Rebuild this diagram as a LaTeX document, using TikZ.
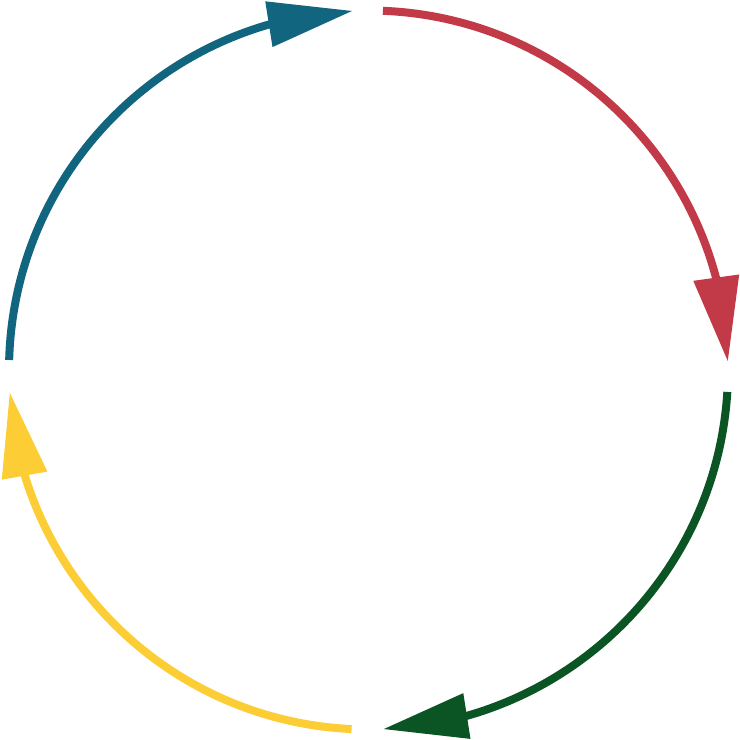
\documentclass[tikz,border=0pt]{standalone}
\usetikzlibrary{arrows.meta,bending}
\definecolor{cblue}{HTML}{12657F}
\definecolor{cred}{HTML}{C23A48}
\definecolor{cgreen}{HTML}{0B5424}
\definecolor{cyellow}{HTML}{FCCD34}
\begin{document}
\begin{tikzpicture}[x=1pt,y=1pt,
  cyclearc/.style={line width=8pt, -{Triangle[length=85pt,width=44pt]}}]
\useasboundingbox (0,0) rectangle (740,740);
\coordinate (c) at (368.5,370);
\draw[cyclearc, cred] ([shift={(87.7:359.5)}]c) arc[start angle=87.7, end angle=1.3, radius=359.5];
\draw[cyclearc, cgreen] ([shift={(-3.5:359.5)}]c) arc[start angle=-3.5, end angle=-87.7, radius=359.5];
\draw[cyclearc, cyellow] ([shift={(-92.7:359.5)}]c) arc[start angle=-92.7, end angle=-176.5, radius=359.5];
\draw[cyclearc, cblue] ([shift={(178.4:359.5)}]c) arc[start angle=178.4, end angle=92.5, radius=359.5];
\end{tikzpicture}
\end{document}
